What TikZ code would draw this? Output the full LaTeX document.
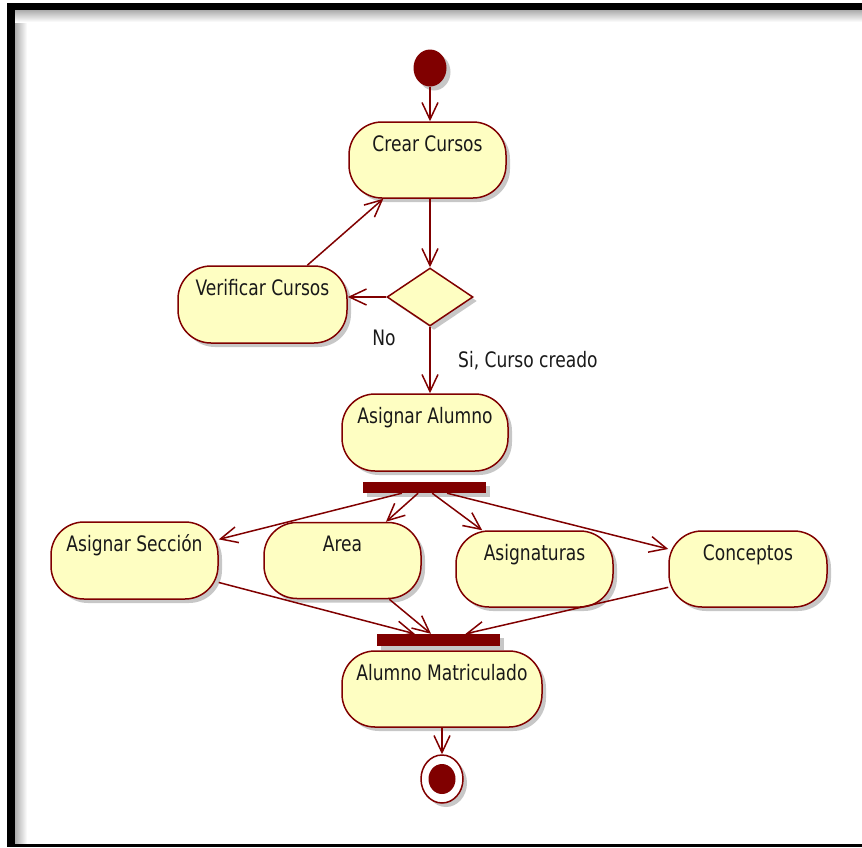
\documentclass[tikz,border=0pt]{standalone}
\usepackage{fontspec}
\usepackage{graphicx}
\setmainfont{DejaVu Sans Condensed}
\usetikzlibrary{arrows.meta,shapes.geometric,shadows,calc}
\definecolor{umlred}{RGB}{128,0,0}
\definecolor{umlfill}{RGB}{254,254,194}
\newcommand{\stx}[1]{\scalebox{1}[1.12]{#1}}
\begin{document}
\begin{tikzpicture}[x=1pt,y=-1pt,
  shad/.style={drop shadow={shadow xshift=4pt, shadow yshift=-4pt, opacity=0.22, fill=black}},
  act/.style={draw=umlred, line width=1.5pt, fill=umlfill, rounded corners=33pt,
    text height=12pt, text depth=30pt, inner sep=0pt, shad, text=black!90,
    font=\fontsize{19}{22}\selectfont},
  bar/.style={fill=umlred, draw=none, inner sep=0pt, shad},
  flow/.style={draw=umlred, line width=1.5pt,
    -{Straight Barb[length=17pt,width=16pt,line width=1.5pt]}},
  lbl/.style={inner sep=0pt, text=black!90, font=\fontsize{19}{22}\selectfont}
]
\useasboundingbox (0,0) rectangle (862,847);
% frame
\shade[left color=gray!65, right color=white] (15,10) rectangle (27,844);
\shade[top color=gray!65, bottom color=white] (15,10) rectangle (862,22);
\fill[black] (7,3) rectangle (15,847);
\fill[black] (7,3) rectangle (862,10);
\fill[black] (7,844) rectangle (862,847);

% nodes
\node[ellipse, fill=umlred, minimum width=33pt, minimum height=37pt, inner sep=0pt, shad] (start) at (430,68) {};
\node[act, minimum width=157pt, minimum height=76pt] (crear) at (427.5,160) {\stx{Crear Cursos}};
\node[diamond, draw=umlred, line width=1.5pt, fill=umlfill, aspect=1.48, minimum width=86pt, minimum height=58pt, inner sep=0pt, shad] (dec) at (430,297) {};
\node[act, minimum width=169pt, minimum height=77pt] (verif) at (262.5,304.5) {\stx{Verificar Cursos}};
\node[act, minimum width=166pt, minimum height=77pt] (asig) at (425,432.5) {\stx{Asignar Alumno}};
\node[bar, minimum width=123pt, minimum height=11pt] (fork) at (424.5,487.5) {};
\node[act, minimum width=167pt, minimum height=77pt] (secc) at (134.5,560.5) {\stx{Asignar Sección}};
\node[act, minimum width=157pt, minimum height=76pt] (area) at (342.5,560.5) {\stx{Area}};
\node[act, minimum width=157pt, minimum height=76pt] (asignat) at (534.5,569) {\stx{Asignaturas}};
\node[act, minimum width=158pt, minimum height=76pt] (concep) at (748,569) {\stx{Conceptos}};
\node[bar, minimum width=123pt, minimum height=12pt] (join) at (438.5,640) {};
\node[act, minimum width=200pt, minimum height=76pt] (alumno) at (442,689) {\stx{Alumno Matriculado}};
\node[ellipse, draw=umlred, line width=1.5pt, fill=white, minimum width=42pt, minimum height=48pt, inner sep=0pt, shad] (end) at (442,779) {};
\node[ellipse, fill=umlred, minimum width=27pt, minimum height=30pt, inner sep=0pt] (endin) at (end) {};

% labels
\node[lbl] (no) at (384,338) {\stx{No}};
\node[lbl, anchor=west] (si) at (458,361) {\stx{Si, Curso creado}};

% connectors
\draw[flow] (start) -- (start |- crear.north);
\draw[flow] (dec.north |- crear.south) -- (dec.north);
\draw[flow] (dec.west) -- (dec.west -| verif.east);
\draw[flow] (verif) -- (crear);
\draw[flow] (dec.south) -- (dec.south |- asig.north);
\draw[flow] (fork) -- (secc);
\draw[flow] (fork) -- (area);
\draw[flow] (fork) -- (asignat);
\draw[flow] (fork) -- (concep);
\draw[flow] (secc) -- (join);
\draw[flow] (area) -- (join);
\draw[flow] (concep) -- (join);
\draw[flow] (alumno.south) -- (end.north);
\end{tikzpicture}
\end{document}
